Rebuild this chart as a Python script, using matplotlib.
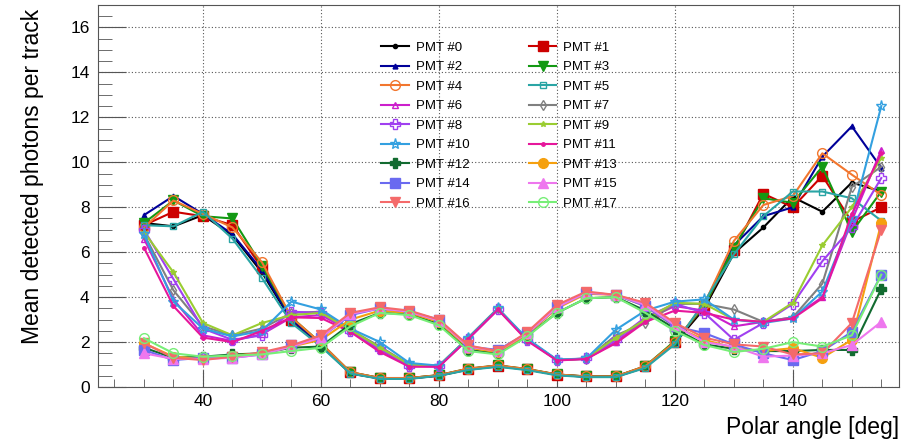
import matplotlib
matplotlib.use("Agg")
import matplotlib.pyplot as plt
from matplotlib.ticker import MultipleLocator

plt.rcParams['font.family'] = ['Liberation Sans', 'DejaVu Sans']

# ------------------------ data ------------------------
angles = [30, 35, 40, 45, 50, 55, 60, 65, 70, 75, 80, 85, 90,
          95, 100, 105, 110, 115, 120, 125, 130, 135, 140, 145, 150, 155]

pmt0 = [7.3, 7.15, 7.65, 6.75, 5.1, 2.95, 1.85, 0.6, 0.38, 0.38, 0.5, 0.78, 0.92,
        0.78, 0.55, 0.45, 0.45, 0.88, 1.95, 3.5, 5.95, 7.1, 8.45, 7.8, 9.1, 8.7]
pmt1 = [7.2, 7.8, 7.6, 7.2, 5.3, 3.0, 1.9, 0.65, 0.4, 0.4, 0.52, 0.8, 0.95,
        0.78, 0.55, 0.47, 0.47, 0.92, 2.0, 3.6, 6.1, 8.6, 8.0, 9.4, 7.35, 8.0]
pmt2 = [7.65, 8.5, 7.7, 6.8, 5.2, 3.0, 1.9, 0.62, 0.38, 0.38, 0.52, 0.8, 0.95,
        0.78, 0.55, 0.46, 0.46, 0.9, 1.95, 3.7, 6.3, 7.6, 8.0, 10.25, 11.6, 9.75]
pmt3 = [7.3, 8.3, 7.6, 7.5, 5.4, 3.1, 1.95, 0.66, 0.4, 0.4, 0.53, 0.82, 0.96,
        0.8, 0.56, 0.47, 0.47, 0.93, 2.05, 3.6, 6.2, 8.4, 8.2, 9.8, 6.9, 8.7]
pmt4 = [7.1, 8.3, 7.7, 7.1, 5.55, 3.1, 1.95, 0.66, 0.4, 0.4, 0.53, 0.82, 0.96,
        0.8, 0.56, 0.47, 0.47, 0.93, 2.0, 3.7, 6.5, 8.1, 8.5, 10.4, 9.45, 8.55]
pmt5 = [7.2, 7.15, 7.8, 6.6, 4.85, 2.85, 1.8, 0.6, 0.36, 0.36, 0.5, 0.76, 0.9,
        0.75, 0.52, 0.44, 0.44, 0.85, 1.9, 3.8, 5.9, 7.6, 8.7, 8.7, 8.4, 7.4]
pmt6 = [6.6, 3.9, 2.3, 2.05, 2.35, 3.1, 3.2, 2.5, 1.65, 0.95, 0.92, 2.15, 3.45,
        2.1, 1.2, 1.25, 2.0, 3.0, 3.6, 3.4, 2.7, 2.9, 3.1, 4.0, 7.4, 10.55]
pmt7 = [6.8, 4.3, 2.7, 2.3, 2.6, 3.3, 3.35, 2.55, 1.8, 1.0, 0.95, 2.2, 3.5,
        2.1, 1.2, 1.25, 2.3, 2.85, 3.7, 3.7, 3.45, 2.9, 3.1, 4.6, 8.9, 9.8]
pmt8 = [7.0, 4.8, 2.6, 2.1, 2.3, 3.35, 3.3, 2.5, 1.7, 0.95, 0.92, 2.15, 3.45,
        2.1, 1.2, 1.27, 2.1, 3.1, 3.7, 3.3, 2.1, 2.85, 3.7, 5.6, 7.1, 9.3]
pmt9 = [6.9, 5.1, 2.85, 2.3, 2.85, 3.2, 3.3, 2.55, 1.75, 1.0, 0.95, 2.2, 3.5,
        2.1, 1.2, 1.27, 2.2, 3.0, 3.75, 3.7, 3.0, 2.9, 3.75, 6.3, 8.0, 10.2]
pmt10 = [6.8, 3.8, 2.6, 2.25, 2.5, 3.8, 3.45, 2.6, 2.0, 1.07, 0.95, 2.2, 3.5,
         2.15, 1.22, 1.27, 2.55, 3.4, 3.8, 3.9, 3.0, 2.85, 3.05, 4.25, 7.5, 12.5]
pmt11 = [6.2, 3.6, 2.2, 2.0, 2.5, 3.1, 3.07, 2.45, 1.56, 0.9, 0.9, 2.15, 3.45,
         2.05, 1.18, 1.25, 1.95, 2.9, 3.4, 3.3, 3.0, 2.9, 3.05, 3.95, 7.7, 10.4]
pmt12 = [1.75, 1.3, 1.35, 1.45, 1.5, 1.75, 1.8, 2.8, 3.3, 3.25, 2.8, 1.65, 1.5,
         2.3, 3.3, 3.95, 4.0, 3.4, 2.6, 1.9, 1.7, 1.6, 1.6, 1.65, 1.65, 4.37]
pmt13 = [1.95, 1.35, 1.25, 1.4, 1.5, 1.8, 2.1, 3.0, 3.4, 3.3, 2.9, 1.75, 1.55,
         2.35, 3.5, 4.15, 4.1, 3.6, 2.7, 2.1, 1.75, 1.6, 1.73, 1.3, 2.1, 7.3]
pmt14 = [1.65, 1.2, 1.3, 1.3, 1.45, 1.85, 2.2, 3.2, 3.5, 3.35, 3.0, 1.8, 1.65,
         2.4, 3.55, 4.2, 4.1, 3.6, 2.7, 2.4, 1.9, 1.5, 1.2, 1.6, 2.45, 5.0]
pmt15 = [1.5, 1.25, 1.25, 1.3, 1.45, 1.8, 2.2, 3.25, 3.5, 3.35, 2.95, 1.8, 1.6,
         2.4, 3.55, 4.2, 4.1, 3.65, 2.75, 2.0, 1.8, 1.35, 1.4, 1.5, 1.87, 2.9]
pmt16 = [1.95, 1.3, 1.2, 1.35, 1.55, 1.85, 2.3, 3.3, 3.55, 3.4, 3.0, 1.85, 1.6,
         2.45, 3.65, 4.25, 4.1, 3.75, 2.85, 2.2, 1.9, 1.8, 1.45, 1.5, 2.85, 7.0]
pmt17 = [2.17, 1.5, 1.35, 1.4, 1.45, 1.6, 1.75, 2.7, 3.3, 3.2, 2.75, 1.6, 1.45,
         2.25, 3.3, 3.95, 4.0, 3.3, 2.5, 1.87, 1.56, 1.7, 2.0, 1.8, 2.3, 5.0]

series = [pmt0, pmt1, pmt2, pmt3, pmt4, pmt5, pmt6, pmt7, pmt8,
          pmt9, pmt10, pmt11, pmt12, pmt13, pmt14, pmt15, pmt16, pmt17]
labels = ["PMT #%d" % i for i in range(18)]

# ------------------------ style ------------------------
colors = ['#000000', '#cc0000', '#000099', '#139913', '#f2762e', '#2aa5a5',
          '#cc1fcc', '#808080', '#a040f0', '#9acd32', '#33a0e0', '#e6179b',
          '#126b30', '#f5a00f', '#6a6af0', '#ee77ee', '#f46a6a', '#77ee77']
# (marker, size, filled)
markers = [('o', 3, True), ('s', 7, True), ('^', 3.5, True), ('v', 7, True),
           ('o', 7, False), ('s', 5, False), ('^', 5, False), ('d', 5, False),
           ('P', 7, False), ('*', 4, True), ('*', 8, False), ('o', 2.5, True),
           ('P', 7, True), ('o', 7, True), ('s', 7, True), ('^', 7, True),
           ('v', 7, True), ('o', 7, False)]

fig = plt.figure(figsize=(9.14, 4.41), dpi=100)
ax = fig.add_axes([0.1072, 0.1224, 0.8764, 0.8663])

handles = []
for ys, lab, c, (m, ms, filled) in zip(series, labels, colors, markers):
    h, = ax.plot(angles, ys, color=c, lw=1.5, marker=m, ms=ms,
                 mfc=c if filled else 'none', mec=c, mew=1.0, label=lab)
    handles.append(h)

ax.set_xlim(22.2, 158)
ax.set_ylim(0, 17)
ax.xaxis.set_major_locator(MultipleLocator(20))
ax.xaxis.set_minor_locator(MultipleLocator(5))
ax.yaxis.set_major_locator(MultipleLocator(2))
ax.yaxis.set_minor_locator(MultipleLocator(0.5))

ax.tick_params(which='both', direction='in', top=False, right=False,
               color='#555555', labelsize=12.5)
ax.tick_params(axis='y', which='major', length=20, pad=6)
ax.tick_params(axis='y', which='minor', length=10)
ax.tick_params(axis='x', which='major', length=12, pad=5)
ax.tick_params(axis='x', which='minor', length=6)
ax.grid(True, which='major', ls=(0, (1, 2)), color='#555555', lw=0.8)
for sp in ax.spines.values():
    sp.set_color('#555555')

ax.set_xlabel("Polar angle [deg]", fontsize=16.5, loc='right')
ax.xaxis.set_label_coords(1.0, -0.076)
ax.set_ylabel("Mean detected photons per track", fontsize=16.5, loc='top')
ax.yaxis.set_label_coords(-0.068, 0.99)

# legend: rows go PMT #0, PMT #1 / PMT #2, PMT #3 ...
order = list(range(0, 18, 2)) + list(range(1, 18, 2))
ax.legend([handles[i] for i in order], [labels[i] for i in order],
          ncol=2, frameon=False, fontsize=9.5, handlelength=2.1,
          columnspacing=4.5, labelspacing=0.55, handletextpad=0.5,
          loc='upper left', bbox_to_anchor=(0.339, 0.935))

fig.savefig("out.png", dpi=100)
